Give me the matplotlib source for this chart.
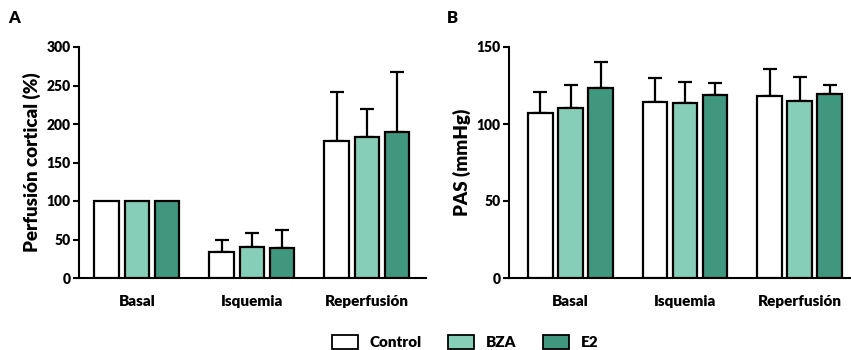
import matplotlib
matplotlib.use("Agg")
import matplotlib.pyplot as plt
import numpy as np
from matplotlib.patches import Patch

plt.rcParams['font.family'] = ['Lato', 'DejaVu Sans']
FW = 'heavy'
plt.rcParams['font.weight'] = FW

categories = ["Basal", "Isquemia", "Reperfusión"]
series = ["Control", "BZA", "E2"]
colors = ["#FFFFFF", "#86CEB8", "#40977E"]

perf_control = [100, 33.8, 177.5]
perf_bza = [100, 40.7, 183.1]
perf_e2 = [100, 39.4, 189.6]
perf_control_err = [0, 16.0, 64.5]
perf_bza_err = [0, 17.7, 36.8]
perf_e2_err = [0, 22.5, 77.5]

pas_control = [107.1, 114.3, 118.2]
pas_bza = [110.4, 113.6, 114.9]
pas_e2 = [123.6, 118.6, 119.3]
pas_control_err = [13.9, 15.8, 17.3]
pas_bza_err = [14.7, 13.7, 15.8]
pas_e2_err = [16.7, 7.8, 6.0]

W, H = 851, 350
fig = plt.figure(figsize=(W / 100, H / 100), dpi=100)

def px_axes(left, right, top, bottom):
    return fig.add_axes([left / W, 1 - bottom / H, (right - left) / W, (bottom - top) / H])

axA = px_axes(79, 426, 47, 278)
axB = px_axes(509, 850, 47, 278)

def draw(ax, vals, errs, ylim, yticks, ylabel, xlim):
    x = np.arange(len(categories))
    pitch = 0.262
    width = 0.215
    for i, (v, e, c) in enumerate(zip(vals, errs, colors)):
        pos = x + (i - 1) * pitch
        ax.bar(pos, v, width=width, color=c, edgecolor='black', linewidth=1.6, zorder=3)
        e_arr = np.array(e)
        mask = e_arr > 0
        ax.errorbar(pos[mask], np.array(v)[mask], yerr=[np.zeros(mask.sum()), e_arr[mask]],
                    fmt='none', ecolor='black', elinewidth=1.6, capsize=5, capthick=1.6, zorder=2)
    ax.set_xlim(*xlim)
    ax.set_ylim(*ylim)
    ax.set_yticks(yticks)
    ax.set_xticks(x)
    ax.set_xticklabels(categories, fontsize=11, fontweight=FW)
    ax.tick_params(axis='x', length=0, pad=12)
    ax.tick_params(axis='y', length=4, width=1.5, labelsize=10, pad=2)
    for lab in ax.get_yticklabels():
        lab.set_fontweight(FW)
    ax.spines['top'].set_visible(False)
    ax.spines['right'].set_visible(False)
    ax.spines['left'].set_linewidth(1.5)
    ax.spines['bottom'].set_linewidth(1.5)
    ax.set_ylabel(ylabel, fontsize=13.5, fontweight=FW, labelpad=4)

draw(axA, [perf_control, perf_bza, perf_e2], [perf_control_err, perf_bza_err, perf_e2_err],
     (0, 300), [0, 50, 100, 150, 200, 250, 300], "Perfusión cortical (%)", (-0.504, 2.513))
draw(axB, [pas_control, pas_bza, pas_e2], [pas_control_err, pas_bza_err, pas_e2_err],
     (0, 150), [0, 50, 100, 150], "PAS (mmHg)", (-0.537, 2.44))

fig.text(8 / W, 1 - 18 / H, "A", fontsize=12, fontweight=FW, va='center', ha='left')
fig.text(447 / W, 1 - 18 / H, "B", fontsize=12, fontweight=FW, va='center', ha='left')

handles = [Patch(facecolor=c, edgecolor='black', linewidth=1.3, label=s) for s, c in zip(series, colors)]
fig.legend(handles=handles, loc='center', bbox_to_anchor=(465 / W, 1 - 342 / H), ncol=3,
           frameon=False, prop={'weight': FW, 'size': 11}, handlelength=1.7,
           handleheight=1.1, columnspacing=1.7, handletextpad=0.8)

fig.savefig("out.png", dpi=100)
